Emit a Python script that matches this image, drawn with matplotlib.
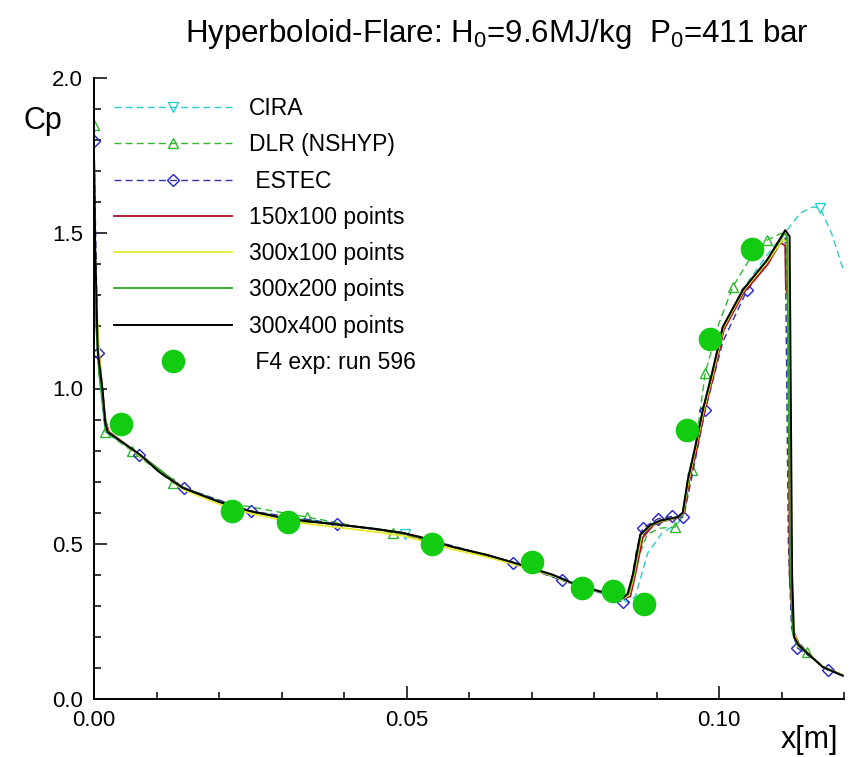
import matplotlib
matplotlib.use("Agg")
import matplotlib.pyplot as plt
from matplotlib.ticker import MultipleLocator, FixedLocator

plt.rcParams['font.family'] = ['Liberation Sans', 'DejaVu Sans']
plt.rcParams['mathtext.fontset'] = 'custom'
plt.rcParams['mathtext.rm'] = 'Liberation Sans'
plt.rcParams['mathtext.it'] = 'Liberation Sans'

# ---------------- data ----------------
cira_x = [0.0000, 0.0003, 0.0008, 0.0018, 0.0074, 0.0142, 0.0250, 0.0389, 0.0497, 0.0574,
          0.0670, 0.0740, 0.0821, 0.0846, 0.0855, 0.0866, 0.0876, 0.0886, 0.0909, 0.0925,
          0.0942, 0.0950, 0.0962, 0.0974, 0.0989, 0.1006, 0.1038, 0.1077, 0.1109, 0.1130,
          0.1150, 0.1162, 0.1180, 0.1198]
cira_y = [1.80, 1.30, 1.05, 0.86, 0.786, 0.68, 0.605, 0.564, 0.533, 0.49,
          0.44, 0.395, 0.34, 0.32, 0.31, 0.33, 0.40, 0.47, 0.535, 0.554,
          0.58, 0.68, 0.80, 0.92, 1.04, 1.19, 1.32, 1.43, 1.51, 1.565,
          1.585, 1.58, 1.50, 1.388]
cira_marks = [8, 31]

dlr_x = [0.0000, 0.0003, 0.0008, 0.0018, 0.0060, 0.0127, 0.0200, 0.0340, 0.0478, 0.0574,
         0.0670, 0.0778, 0.0846, 0.0858, 0.0870, 0.0885, 0.0905, 0.0930, 0.0945, 0.0957,
         0.0978, 0.1000, 0.1022, 0.1050, 0.1077, 0.1100, 0.1108, 0.1113, 0.1118, 0.1141,
         0.1166, 0.1198]
dlr_y = [1.849, 1.30, 1.05, 0.86, 0.80, 0.695, 0.637, 0.586, 0.535, 0.49,
         0.44, 0.362, 0.322, 0.33, 0.45, 0.53, 0.55, 0.554, 0.60, 0.737,
         1.05, 1.21, 1.327, 1.42, 1.478, 1.50, 1.49, 0.50, 0.21, 0.15,
         0.105, 0.078]
dlr_marks = [0, 3, 4, 5, 7, 8, 17, 19, 20, 22, 24, 29]

estec_x = [0.0000, 0.0006, 0.0018, 0.0072, 0.0144, 0.0251, 0.0389, 0.0494, 0.0580, 0.0670,
           0.0749, 0.0820, 0.0846, 0.0858, 0.0868, 0.0878, 0.0902, 0.0925, 0.0943, 0.0955,
           0.0978, 0.1006, 0.1045, 0.1080, 0.1106, 0.1111, 0.1116, 0.1125, 0.1150, 0.1174,
           0.1198]
estec_y = [1.797, 1.114, 0.87, 0.786, 0.68, 0.605, 0.564, 0.535, 0.49, 0.438,
           0.382, 0.335, 0.312, 0.35, 0.48, 0.55, 0.58, 0.588, 0.585, 0.70,
           0.93, 1.15, 1.317, 1.41, 1.49, 0.50, 0.23, 0.165, 0.13, 0.093,
           0.075]
estec_marks = [0, 1, 3, 4, 5, 6, 9, 10, 12, 15, 16, 17, 18, 20, 22, 27, 29]

g150_x = [0.0000, 0.0004, 0.0011, 0.0018, 0.0024, 0.0074, 0.0142, 0.0200, 0.0250, 0.0310,
          0.0389, 0.0450, 0.0494, 0.0574, 0.0629, 0.0670, 0.0734, 0.0778, 0.0821, 0.0848,
          0.0858, 0.0866, 0.0878, 0.0895, 0.0910, 0.0934, 0.0944, 0.0952, 0.0964, 0.0976,
          0.0991, 0.1008, 0.1040, 0.1078, 0.1098, 0.1106, 0.1107, 0.1111, 0.1113, 0.1119,
          0.1128, 0.1141, 0.1166, 0.1198]
g150_y = [1.42, 1.20, 1.05, 0.90, 0.86, 0.786, 0.68, 0.635, 0.605, 0.58,
          0.562, 0.547, 0.534, 0.489, 0.463, 0.44, 0.40, 0.362, 0.341, 0.325,
          0.33, 0.40, 0.52, 0.56, 0.572, 0.584, 0.60, 0.70, 0.80, 0.92,
          1.04, 1.19, 1.31, 1.40, 1.47, 1.46, 1.32, 1.30, 0.40, 0.22,
          0.175, 0.150, 0.104, 0.076]

g300a_x = [0.0000, 0.0003, 0.0010, 0.0018, 0.0023, 0.0074, 0.0142, 0.0200, 0.0250, 0.0310,
           0.0389, 0.0450, 0.0494, 0.0574, 0.0629, 0.0670, 0.0734, 0.0778, 0.0821, 0.0847,
           0.0856, 0.0864, 0.0876, 0.0892, 0.0908, 0.0934, 0.0943, 0.0951, 0.0963, 0.0975,
           0.0990, 0.1007, 0.1039, 0.1078, 0.1102, 0.1110, 0.1115, 0.1120, 0.1128, 0.1141,
           0.1166, 0.1198]
g300a_y = [1.60, 1.30, 1.06, 0.89, 0.86, 0.782, 0.675, 0.628, 0.598, 0.572,
           0.553, 0.538, 0.526, 0.482, 0.457, 0.435, 0.397, 0.360, 0.340, 0.324,
           0.335, 0.40, 0.53, 0.56, 0.573, 0.585, 0.60, 0.70, 0.81, 0.925,
           1.045, 1.195, 1.315, 1.41, 1.48, 1.47, 0.45, 0.21, 0.172, 0.149,
           0.104, 0.076]

g300b_x = [0.0000, 0.0002, 0.0008, 0.0015, 0.0021, 0.0043, 0.0074, 0.0142, 0.0200, 0.0250,
           0.0310, 0.0389, 0.0450, 0.0494, 0.0574, 0.0629, 0.0670, 0.0734, 0.0778, 0.0821,
           0.0846, 0.0855, 0.0863, 0.0875, 0.0891, 0.0907, 0.0934, 0.0942, 0.0950, 0.0962,
           0.0974, 0.0989, 0.1006, 0.1038, 0.1077, 0.1105, 0.1109, 0.1114, 0.1118, 0.1126,
           0.1141, 0.1166, 0.1198]
g300b_y = [1.38, 1.25, 1.05, 0.95, 0.86, 0.83, 0.786, 0.68, 0.635, 0.605,
           0.58, 0.562, 0.548, 0.535, 0.49, 0.464, 0.44, 0.40, 0.362, 0.341,
           0.325, 0.338, 0.40, 0.53, 0.56, 0.574, 0.586, 0.60, 0.705, 0.812,
           0.93, 1.05, 1.198, 1.317, 1.414, 1.50, 1.49, 0.45, 0.21, 0.172,
           0.148, 0.103, 0.076]

g400_x = [0.0000, 0.0002, 0.0006, 0.0014, 0.0018, 0.0022, 0.0043, 0.0074, 0.0105, 0.0142,
          0.0200, 0.0250, 0.0310, 0.0389, 0.0450, 0.0494, 0.0522, 0.0574, 0.0629, 0.0670,
          0.0734, 0.0778, 0.0821, 0.0846, 0.0854, 0.0862, 0.0874, 0.0890, 0.0906, 0.0934,
          0.0942, 0.0950, 0.0962, 0.0974, 0.0989, 0.1006, 0.1038, 0.1077, 0.1106, 0.1113,
          0.1117, 0.1120, 0.1128, 0.1141, 0.1166, 0.1198]
g400_y = [1.75, 1.45, 1.12, 0.99, 0.89, 0.86, 0.83, 0.786, 0.73, 0.68,
          0.635, 0.605, 0.58, 0.562, 0.548, 0.535, 0.522, 0.49, 0.464, 0.44,
          0.40, 0.362, 0.341, 0.325, 0.34, 0.40, 0.53, 0.56, 0.575, 0.586,
          0.60, 0.705, 0.812, 0.93, 1.05, 1.198, 1.317, 1.414, 1.51, 1.49,
          0.40, 0.20, 0.172, 0.148, 0.103, 0.075]

exp_x = [0.0043, 0.0221, 0.0310, 0.0541, 0.0701, 0.0781, 0.0830, 0.0880, 0.0949, 0.0986, 0.1053]
exp_y = [0.886, 0.605, 0.570, 0.499, 0.441, 0.357, 0.348, 0.306, 0.866, 1.159, 1.449]

x_ticks = [0.0, 0.05, 0.10]
x_ticklabels = ['0.00', '0.05', '0.10']
y_ticks = [0.0, 0.5, 1.0, 1.5, 2.0]
y_ticklabels = ['0.0', '0.5', '1.0', '1.5', '2.0']

labels = ['CIRA', 'DLR (NSHYP)', ' ESTEC', '150x100 points', '300x100 points',
          '300x200 points', '300x400 points', ' F4 exp: run 596']

# ---------------- figure ----------------
W, H = 851, 757
fig = plt.figure(figsize=(W / 100, H / 100), dpi=100)
ax = fig.add_axes([94 / W, 1 - 699 / H, (844 - 94) / W, (699 - 78) / H])

dash = (5, 3)
ax.plot(cira_x, cira_y, color='#2ccccc', lw=1.0, dashes=dash, marker='v', ms=7,
        mfc='none', mec='#2ccccc', markevery=cira_marks, label=labels[0])
ax.plot(dlr_x, dlr_y, color='#2eb82e', lw=1.0, dashes=dash, marker='^', ms=7,
        mfc='none', mec='#2eb82e', markevery=dlr_marks, label=labels[1])
ax.plot(estec_x, estec_y, color='#3333aa', lw=1.0, dashes=dash, marker='D', ms=6,
        mfc='none', mec='#2222cc', markevery=estec_marks, label=labels[2])
ax.plot(g150_x, g150_y, color='#b01020', lw=1.3, label=labels[3])
ax.plot(g300a_x, g300a_y, color='#e8e830', lw=1.3, label=labels[4])
ax.plot(g300b_x, g300b_y, color='#22aa22', lw=1.3, label=labels[5])
ax.plot(g400_x, g400_y, color='#000000', lw=1.4, label=labels[6])
ax.plot(exp_x, exp_y, linestyle='none', marker='o', ms=16, color='#11cc11',
        mec='#11cc11', label=labels[7], zorder=5)

ax.set_xlim(0, 0.12)
ax.set_ylim(0, 2.0)
for s in ['top', 'right']:
    ax.spines[s].set_visible(False)
for s in ['left', 'bottom']:
    ax.spines[s].set_linewidth(1.4)

ax.xaxis.set_major_locator(FixedLocator(x_ticks))
ax.set_xticklabels(x_ticklabels)
ax.xaxis.set_minor_locator(MultipleLocator(0.01))
ax.yaxis.set_major_locator(FixedLocator(y_ticks))
ax.set_yticklabels(y_ticklabels)
ax.yaxis.set_minor_locator(MultipleLocator(0.1))
ax.tick_params(which='both', direction='in', width=1.1, labelsize=16)
ax.tick_params(which='major', length=9.5)
ax.tick_params(which='minor', length=5)
ax.tick_params(axis='x', pad=8)
ax.tick_params(axis='y', pad=8)

leg = ax.legend(loc='upper left', bbox_to_anchor=(114 / W, 1 - 97 / H),
                bbox_transform=fig.transFigure, frameon=False, fontsize=16.5,
                handlelength=5.15, handletextpad=0.75, labelspacing=0.58,
                borderpad=0, borderaxespad=0, numpoints=1)

fig.text(43 / W, 1 - 121 / H, 'Cp', fontsize=22, ha='center', va='center')
fig.text(809 / W, 1 - 740 / H, 'x[m]', fontsize=22, ha='center', va='center')
fig.text(497 / W, 1 - 34 / H, 'Hyperboloid-Flare: H$_0$=9.6MJ/kg  P$_0$=411 bar',
         fontsize=22.5, ha='center', va='center')

fig.savefig('out.png', dpi=100)
